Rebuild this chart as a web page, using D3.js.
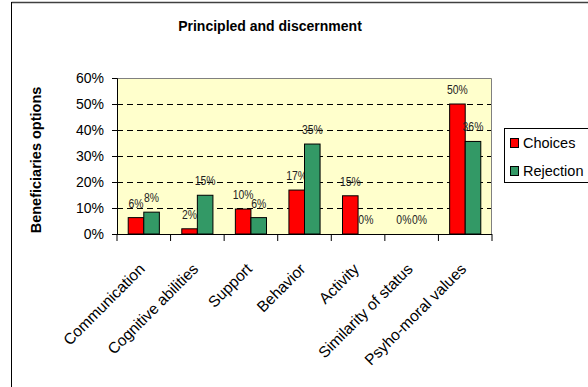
<!DOCTYPE html>
<html>
<head>
<meta charset="utf-8">
<script src="https://cdnjs.cloudflare.com/ajax/libs/d3/7.8.5/d3.min.js"></script>
<style>
  html, body { margin: 0; padding: 0; background: #fff; }
  svg { display: block; font-family: Arial, "Liberation Sans", sans-serif; }
</style>
</head>
<body>
<svg id="chart" width="588" height="387"></svg>
<script>
// ---- Data ----
const categories = ["Communication", "Cognitive abilities", "Support", "Behavior", "Activity", "Similarity of status", "Psyho-moral values"];
const seriesNames = ["Choices", "Rejection"];
const choices   = [6.3, 2.0, 9.6, 16.9, 14.7, 0, 50.0];
const rejection = [8.4, 14.9, 6.3, 34.6, 0, 0, 35.6];
const yTicks = [0, 10, 20, 30, 40, 50, 60];
const colors = ["#FF0000", "#339966"];

const seriesValues = [choices, rejection];

const svg = d3.select("#chart");

// frame lines
svg.append("line").attr("x1", 11.5).attr("x2", 588).attr("y1", 2.5).attr("y2", 2.5)
  .attr("stroke", "#404040").attr("stroke-width", 1.5);
svg.append("line").attr("x1", 11.5).attr("x2", 11.5).attr("y1", 2).attr("y2", 387)
  .attr("stroke", "#000").attr("stroke-width", 1);

// plot area
const pl = 117, pr = 492, pt = 78, pb = 234;

const x = d3.scaleBand().domain(categories).range([pl, pr]).paddingInner(0).paddingOuter(0);
const xs = d3.scaleBand().domain(seriesNames).range([0, x.bandwidth()]).paddingInner(0).paddingOuter(0.72);
const y = d3.scaleLinear().domain([0, 60]).range([pb, pt]);

svg.append("rect").attr("x", pl).attr("y", pt).attr("width", pr - pl).attr("height", pb - pt)
  .attr("fill", "#FFFFCC");

// gridlines
svg.append("g").selectAll("line").data(yTicks.filter(d => d > 0 && d < 60)).join("line")
  .attr("x1", pl).attr("x2", pr)
  .attr("y1", d => Math.round(y(d)) + 0.5).attr("y2", d => Math.round(y(d)) + 0.5)
  .attr("stroke", "#000").attr("stroke-width", 1).attr("stroke-dasharray", "6,4");

// plot border top & right
svg.append("path")
  .attr("d", `M${pl},${pt + 0.5}H${pr - 0.5}V${pb}`)
  .attr("fill", "none").attr("stroke", "#808080").attr("stroke-width", 1);

// bars
const groups = svg.append("g").selectAll("g").data(seriesNames).join("g")
  .attr("fill", (d, i) => colors[i]);
groups.selectAll("rect").data((s, si) => categories.map((c, ci) => ({c, s, v: seriesValues[si][ci]})))
  .join("rect")
  .attr("x", d => x(d.c) + xs(d.s))
  .attr("width", xs.bandwidth())
  .attr("y", d => y(d.v))
  .attr("height", d => y(0) - y(d.v))
  .attr("stroke", "#000").attr("stroke-width", 1);

// data labels
groups.selectAll("text").data((s, si) => categories.map((c, ci) => ({c, s, v: seriesValues[si][ci]})))
  .join("text")
  .attr("transform", d => `translate(${x(d.c) + xs(d.s) + xs.bandwidth() / 2},${y(d.v) - 10}) scale(0.8,1)`)
  .attr("text-anchor", "middle")
  .attr("font-size", 13)
  .attr("fill", "#222")
  .text(d => Math.round(d.v) + "%");

// y axis
const yAxis = svg.append("g").attr("transform", `translate(${pl},0)`)
  .call(d3.axisLeft(y).tickValues(yTicks).tickFormat(d => d + "%").tickSize(5).tickPadding(8));
yAxis.select(".domain").attr("stroke", "#000");
yAxis.selectAll("text").attr("font-size", 14).attr("fill", "#000").attr("font-family", "Arial, 'Liberation Sans', sans-serif");

// x axis
const boundaries = categories.map(c => x(c)).concat([pr]);
svg.append("line").attr("x1", pl).attr("x2", pr).attr("y1", pb + 0.5).attr("y2", pb + 0.5).attr("stroke", "#000");
svg.append("g").selectAll("line").data(boundaries).join("line")
  .attr("x1", d => d).attr("x2", d => d).attr("y1", pb).attr("y2", pb + 7)
  .attr("stroke", "#000");

// category labels
svg.append("g").selectAll("text").data(categories).join("text")
  .attr("transform", d => `translate(${x(d) + x.bandwidth() / 2 + 2},${270}) rotate(-45)`)
  .attr("text-anchor", "end")
  .attr("font-size", 15.5)
  .attr("fill", "#000")
  .text(d => d);

// title
svg.append("text").attr("x", 270).attr("y", 31).attr("text-anchor", "middle")
  .attr("font-size", 14).attr("font-weight", "bold").text("Principled and discernment");

// y axis title
svg.append("text").attr("transform", `translate(41,160) rotate(-90)`)
  .attr("text-anchor", "middle").attr("font-size", 14.5).attr("font-weight", "bold")
  .text("Beneficiaries options");

// legend
const lg = svg.append("g");
lg.append("rect").attr("x", 504.5).attr("y", 128.5).attr("width", 100).attr("height", 54)
  .attr("fill", "#fff").attr("stroke", "#000");
const li = lg.selectAll("g").data(seriesNames).join("g")
  .attr("transform", (d, i) => `translate(0,${i * 28})`);
li.append("rect").attr("x", 510.5).attr("y", 138.5).attr("width", 8).attr("height", 9)
  .attr("fill", (d, i) => colors[i]).attr("stroke", "#000");
li.append("text").attr("x", 523).attr("y", 147.5).attr("font-size", 14.5).text(d => d);
</script>
</body>
</html>
